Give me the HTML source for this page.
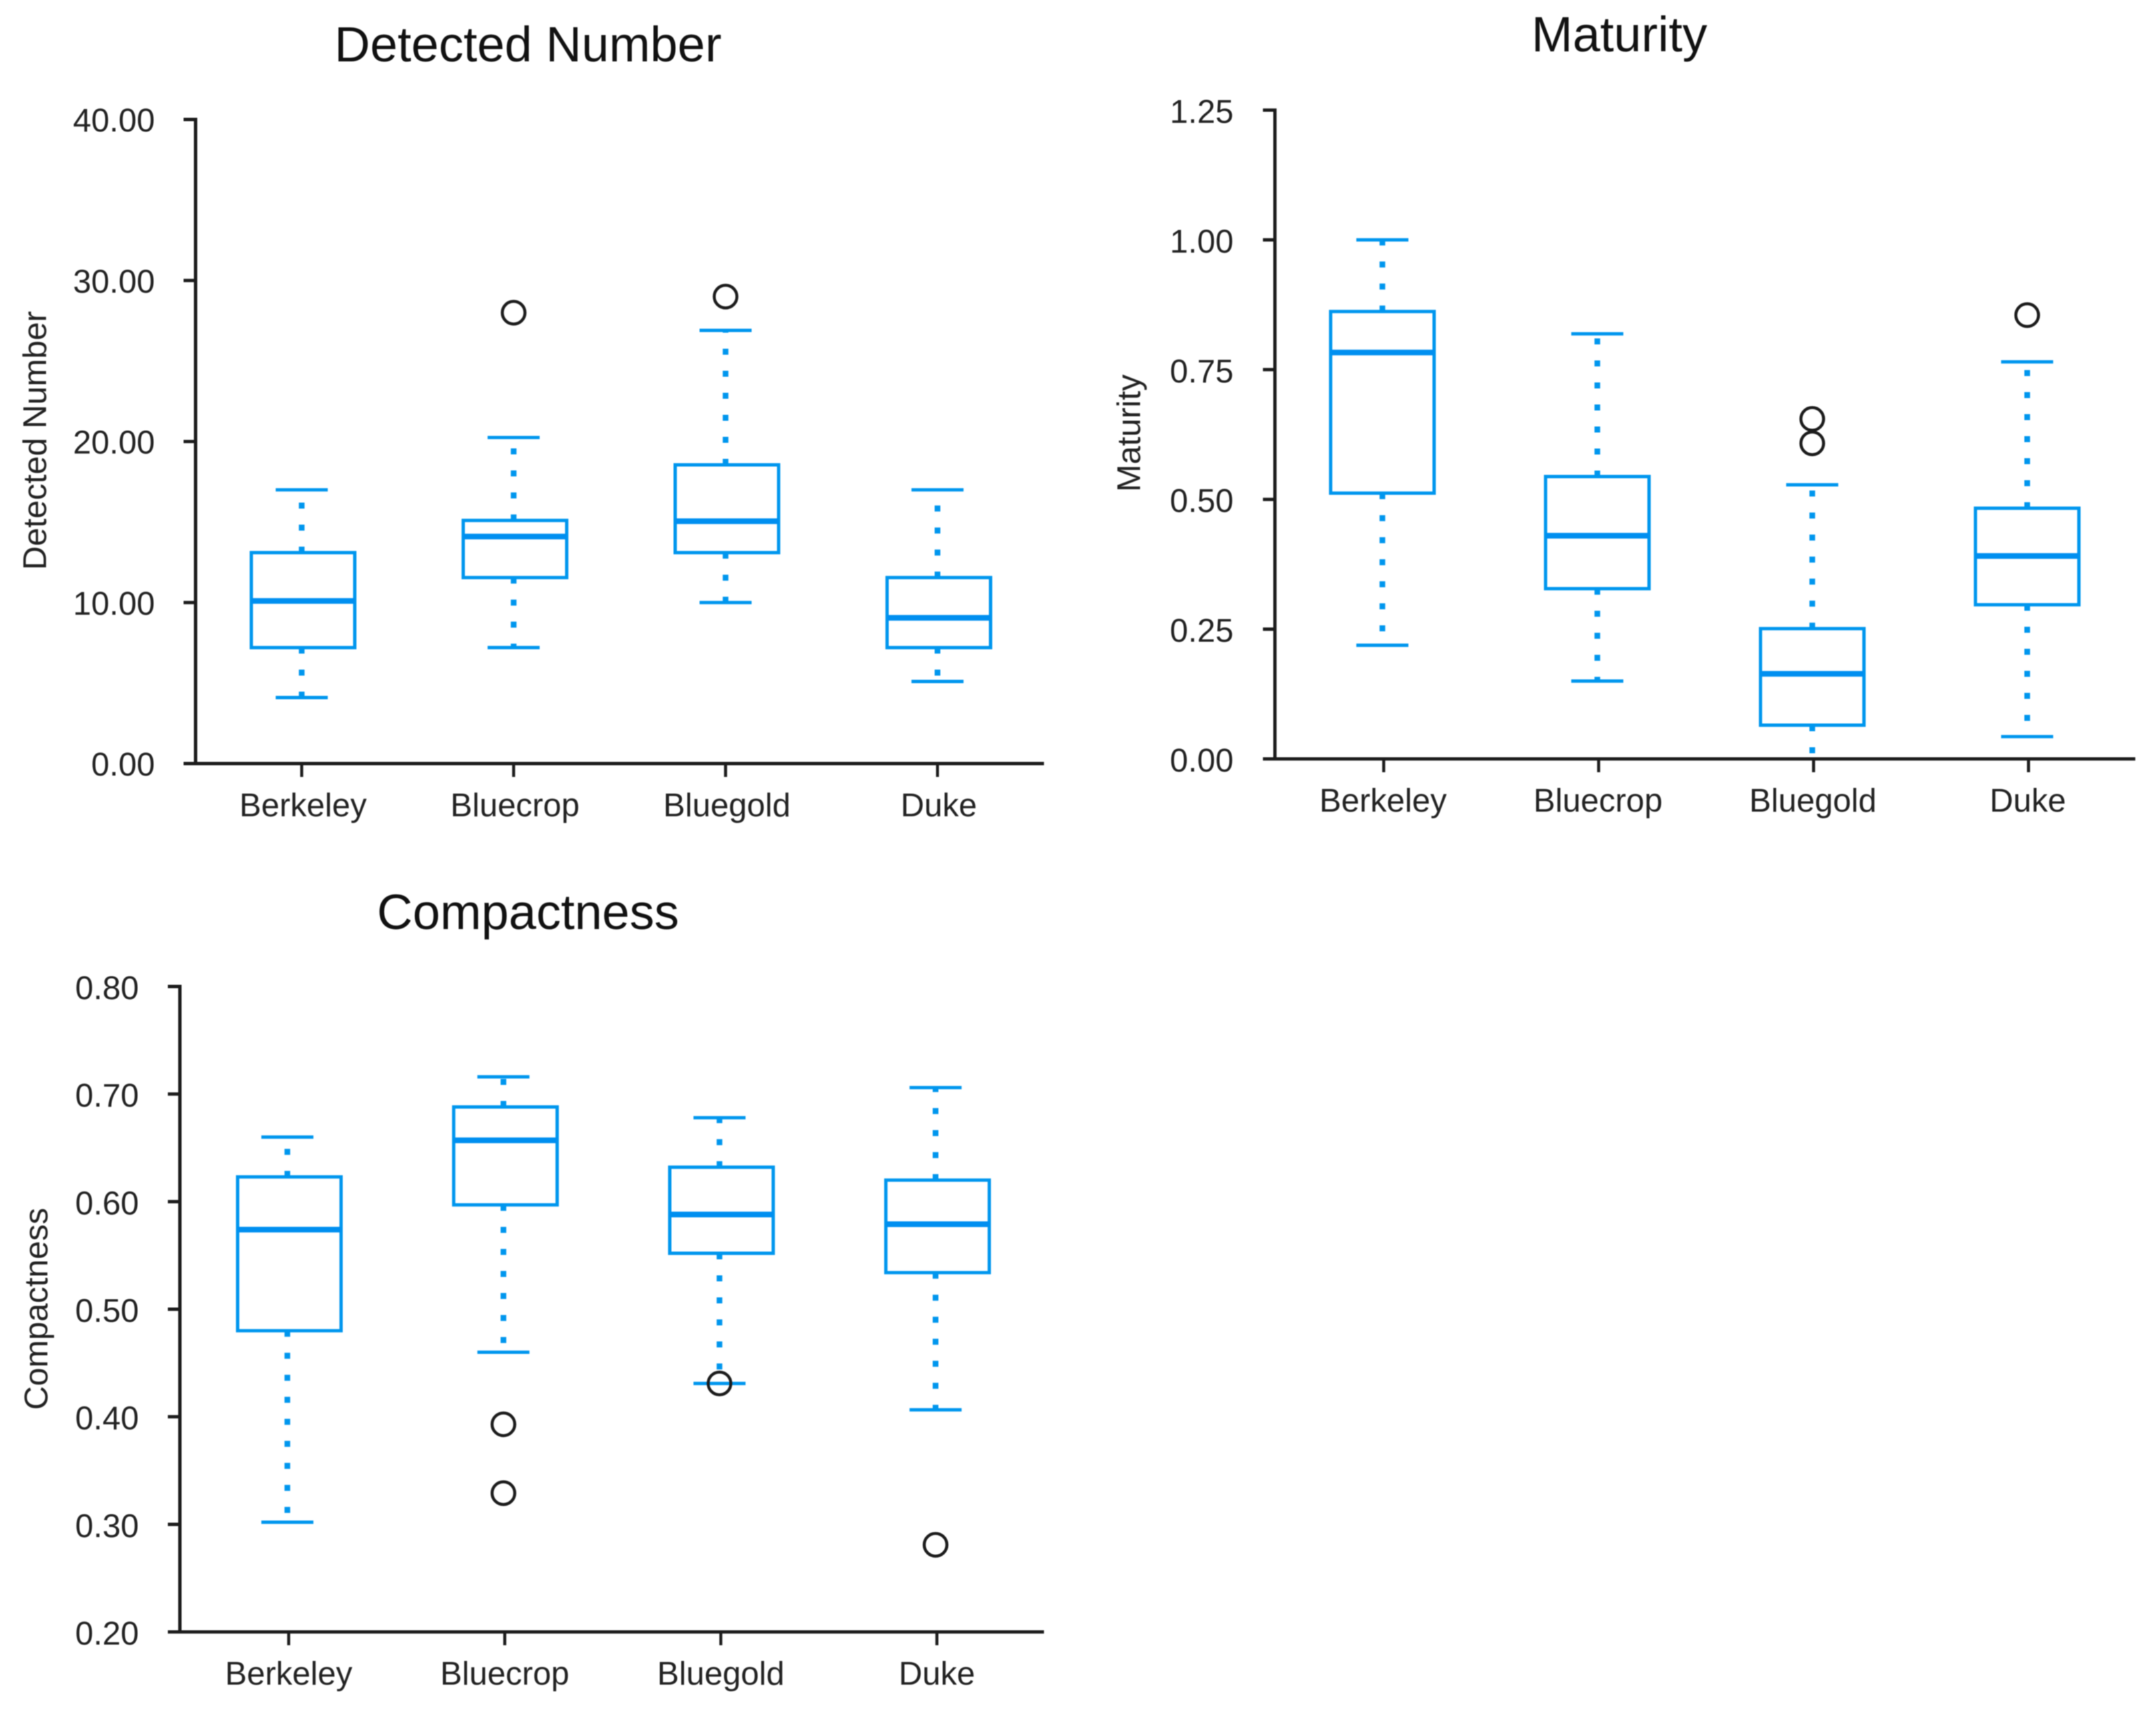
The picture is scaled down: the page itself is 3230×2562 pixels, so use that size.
<!DOCTYPE html>
<html>
<head>
<meta charset="utf-8">
<title>Box plots by cultivar</title>
<style>
html,body{margin:0;padding:0;background:#fff;width:3230px;height:2562px;overflow:hidden}
svg{display:block;filter:blur(0.9px)}
text{font-family:"Liberation Sans",sans-serif;fill:#222}
.title{font-size:74px;fill:#111;text-anchor:middle}
.ylab{font-size:49.5px;text-anchor:middle}
.tick{font-size:49px;text-anchor:end}
.cat{font-size:49px;text-anchor:middle}
</style>
</head>
<body>
<svg id="figure" width="3230" height="2562" viewBox="0 0 3230 2562" xmlns="http://www.w3.org/2000/svg">
  <rect x="0" y="0" width="3230" height="2562" fill="#fff"/>
  <g id="chart-detected">
    <text class="title" x="791" y="92">Detected Number</text>
    <text class="ylab" transform="translate(69 660) rotate(-90)">Detected Number</text>
  </g>
  <g id="chart-maturity">
    <text class="title" x="2426" y="77">Maturity</text>
    <text class="ylab" transform="translate(1708 649) rotate(-90)">Maturity</text>
  </g>
  <g id="chart-compactness">
    <text class="title" x="791" y="1392">Compactness</text>
    <text class="ylab" transform="translate(71 1961) rotate(-90)">Compactness</text>
  </g>
</svg>
<script>
const categories = ["Berkeley", "Bluecrop", "Bluegold", "Duke"];

const detectedTicks = [0, 10, 20, 30, 40];
const detectedTickLabels = ["0.00", "10.00", "20.00", "30.00", "40.00"];
const detectedLow = [4.1, 7.2, 10, 5.1];
const detectedQ1 = [7.2, 11.55, 13.1, 7.2];
const detectedMedian = [10.1, 14.1, 15.05, 9.05];
const detectedQ3 = [13.1, 15.1, 18.55, 11.55];
const detectedHigh = [17, 20.25, 26.9, 17];
const detectedOutliers = [[], [28], [29], []];

const maturityTicks = [0, 0.25, 0.5, 0.75, 1, 1.25];
const maturityTickLabels = ["0.00", "0.25", "0.50", "0.75", "1.00", "1.25"];
const maturityLow = [0.219, 0.15, 0, 0.043];
const maturityQ1 = [0.512, 0.328, 0.065, 0.297];
const maturityMedian = [0.783, 0.43, 0.164, 0.391];
const maturityQ3 = [0.862, 0.544, 0.251, 0.483];
const maturityHigh = [1.0, 0.819, 0.528, 0.765];
const maturityOutliers = [[], [], [0.655, 0.608], [0.855]];

const compactnessTicks = [0.2, 0.3, 0.4, 0.5, 0.6, 0.7, 0.8];
const compactnessTickLabels = ["0.20", "0.30", "0.40", "0.50", "0.60", "0.70", "0.80"];
const compactnessLow = [0.302, 0.46, 0.431, 0.4065];
const compactnessQ1 = [0.48, 0.597, 0.552, 0.534];
const compactnessMedian = [0.574, 0.657, 0.588, 0.579];
const compactnessQ3 = [0.623, 0.688, 0.632, 0.62];
const compactnessHigh = [0.66, 0.716, 0.678, 0.706];
const compactnessOutliers = [[], [0.393, 0.329], [0.431], [0.281]];

const SVG_NS = "http://www.w3.org/2000/svg";
const BLUE = "#0096ee";
const INK = "#1c1c1c";

function make(parent, tag, attrs) {
  const el = document.createElementNS(SVG_NS, tag);
  for (const k in attrs) el.setAttribute(k, attrs[k]);
  parent.appendChild(el);
  return el;
}

function drawChart(groupId, prefix, frame, ticks, tickLabels, low, q1, median, q3, high, outliers) {
  const root = document.getElementById(groupId);
  const vMin = ticks[0];
  const vMax = ticks[ticks.length - 1];
  const y = v => frame.bottom - (v - vMin) / (vMax - vMin) * (frame.bottom - frame.top);
  const x = i => frame.firstX + frame.step * i;

  categories.forEach((cat, i) => {
    const box = make(root, "g", {});
    
    
    const cx = x(i) + frame.boxOffset;
    const wx = x(i) + frame.whiskerOffset;

    const upper = make(box, "line", {x1: wx, x2: wx, y1: y(q3[i]), y2: y(high[i]), stroke: BLUE, "stroke-width": 8.5, "stroke-dasharray": "9 24"});
    
    
    const lower = make(box, "line", {x1: wx, x2: wx, y1: y(q1[i]), y2: y(low[i]), stroke: BLUE, "stroke-width": 8.5, "stroke-dasharray": "9 24"});
    
    

    const capHigh = make(box, "line", {x1: wx - 39, x2: wx + 39, y1: y(high[i]), y2: y(high[i]), stroke: BLUE, "stroke-width": 5});
    
    
    const capLow = make(box, "line", {x1: wx - 39, x2: wx + 39, y1: y(low[i]), y2: y(low[i]), stroke: BLUE, "stroke-width": 5});
    
    

    const rect = make(box, "rect", {x: cx - 77.5, width: 155, y: y(q3[i]), height: y(q1[i]) - y(q3[i]), fill: "none", stroke: BLUE, "stroke-width": 5});
    
    
    const med = make(box, "line", {x1: cx - 77.5, x2: cx + 77.5, y1: y(median[i]), y2: y(median[i]), stroke: "#008ff0", "stroke-width": 8.5});
    
    

    outliers[i].forEach(v => {
      const c = make(box, "circle", {cx: wx, cy: y(v), r: 17, fill: "none", stroke: INK, "stroke-width": 4.5});
      
      
    });
  });

  const yAxis = make(root, "line", {x1: frame.axisX, x2: frame.axisX, y1: frame.top - 2.5, y2: frame.bottom + 2.5, stroke: INK, "stroke-width": 5});
  
  
  const xAxis = make(root, "line", {x1: frame.axisX, x2: frame.right, y1: frame.bottom, y2: frame.bottom, stroke: INK, "stroke-width": 5});
  
  

  ticks.forEach((t, i) => {
    const mark = make(root, "line", {x1: frame.axisX - 18, x2: frame.axisX, y1: y(t), y2: y(t), stroke: INK, "stroke-width": 5});
    
    
    const label = make(root, "text", {class: "tick", x: frame.tickLabelX, y: y(t) + frame.labelDrop});
    label.textContent = tickLabels[i];
    
    
  });

  categories.forEach((cat, i) => {
    const mark = make(root, "line", {x1: x(i), x2: x(i), y1: frame.bottom, y2: frame.bottom + 20, stroke: INK, "stroke-width": 4.5});
    
    
    const label = make(root, "text", {class: "cat", x: x(i) + frame.labelOffset, y: frame.bottom + 79});
    label.textContent = cat;
    
    
  });
}

drawChart("chart-detected", "detected",
  {axisX: 293, right: 1564, top: 179, bottom: 1144, firstX: 452, step: 317.5, boxOffset: 2, whiskerOffset: 0, labelOffset: 2, tickLabelX: 232, labelDrop: 18},
  detectedTicks, detectedTickLabels, detectedLow, detectedQ1, detectedMedian, detectedQ3, detectedHigh, detectedOutliers);

drawChart("chart-maturity", "maturity",
  {axisX: 1910, right: 3199, top: 165, bottom: 1137, firstX: 2073, step: 322, boxOffset: -2, whiskerOffset: -2, labelOffset: -1, tickLabelX: 1848, labelDrop: 19},
  maturityTicks, maturityTickLabels, maturityLow, maturityQ1, maturityMedian, maturityQ3, maturityHigh, maturityOutliers);

drawChart("chart-compactness", "compactness",
  {axisX: 269.5, right: 1564, top: 1478, bottom: 2445, firstX: 432.5, step: 323.7, boxOffset: 1, whiskerOffset: -2, labelOffset: 0, tickLabelX: 208, labelDrop: 19},
  compactnessTicks, compactnessTickLabels, compactnessLow, compactnessQ1, compactnessMedian, compactnessQ3, compactnessHigh, compactnessOutliers);
</script>
</body>
</html>
